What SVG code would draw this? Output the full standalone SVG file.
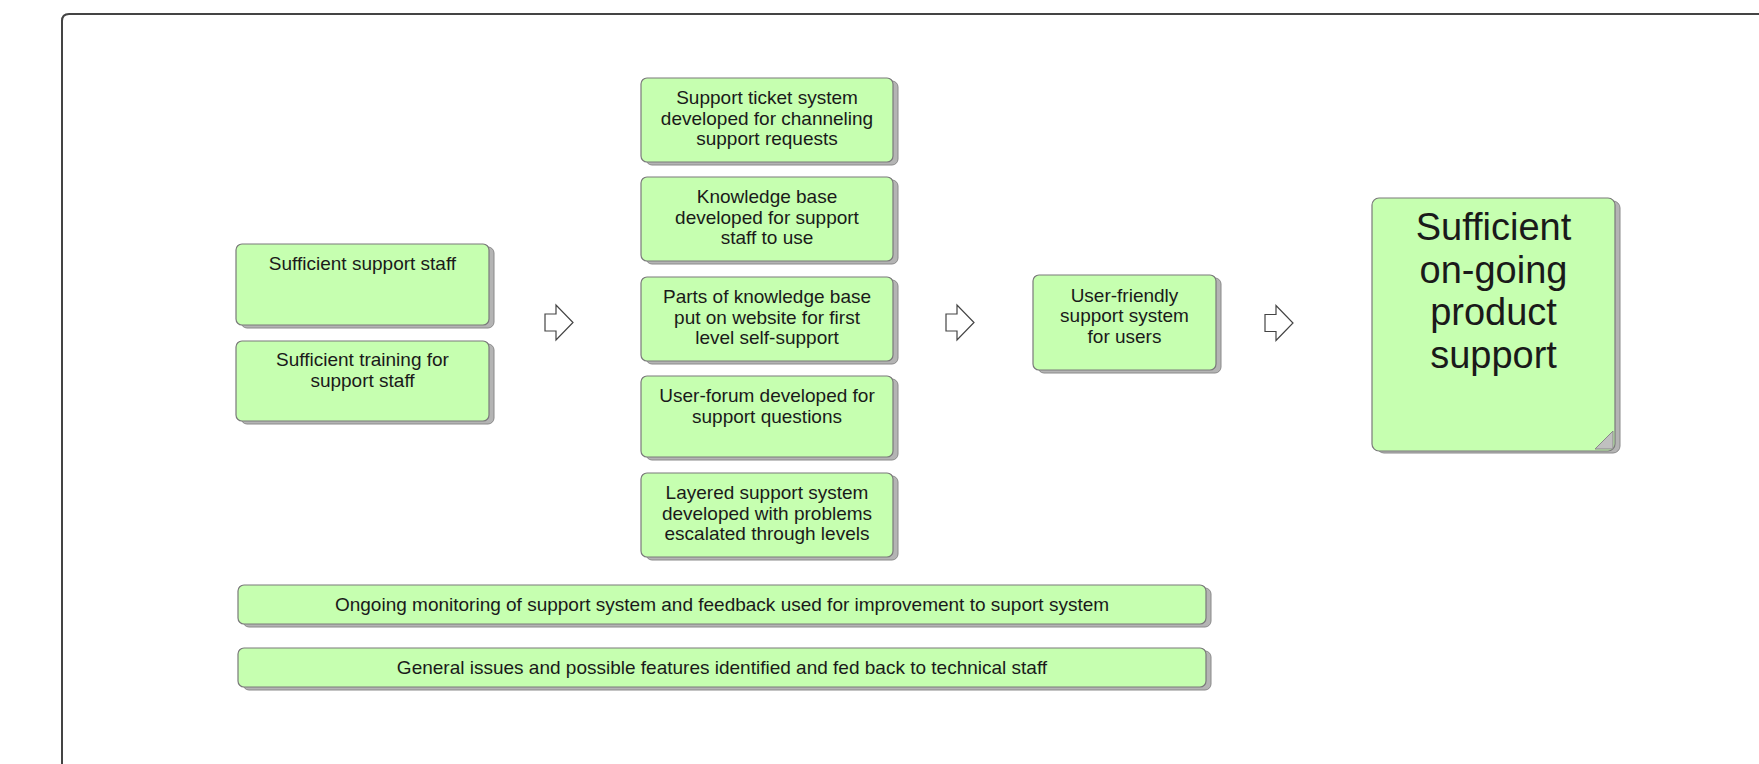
<svg xmlns="http://www.w3.org/2000/svg" width="1759" height="764" viewBox="0 0 1759 764">
<style>
.sh{fill:#b4b4b4;stroke:#8a8a8a;stroke-width:1}
.bx{fill:#c6ffb0;stroke:#7a7a7a;stroke-width:1.2}
.t{font-family:"Liberation Sans",Arial,sans-serif;font-size:19px;fill:#1a1a1a;text-anchor:middle}
.tb{font-family:"Liberation Sans",Arial,sans-serif;font-size:38px;fill:#1a1a1a;text-anchor:middle}
.ar{fill:#ffffff;stroke:#444;stroke-width:1.2}
</style>
<defs>
<polygon id="arr" points="0,-8.5 11,-8.5 11,-17.5 28,0 11,17.5 11,8.5 0,8.5"/>
</defs>
<rect width="1759" height="764" fill="#ffffff"/>
<path d="M62,764 L62,21 Q62,14 69,14 L1759,14" fill="none" stroke="#444" stroke-width="2"/>

<g id="n1">
<rect class="sh" x="241" y="247" width="253" height="81" rx="6"/>
<rect class="bx" x="236" y="244" width="253" height="81" rx="6"/>
<text class="t" x="362.5" y="270">Sufficient support staff</text>
</g>
<g id="n2">
<rect class="sh" x="241" y="344" width="253" height="80" rx="6"/>
<rect class="bx" x="236" y="341" width="253" height="80" rx="6"/>
<text class="t" x="362.5" y="366">Sufficient training for</text>
<text class="t" x="362.5" y="386.5">support staff</text>
</g>

<g id="n3">
<rect class="sh" x="646" y="81" width="252" height="84" rx="6"/>
<rect class="bx" x="641" y="78" width="252" height="84" rx="6"/>
<text class="t" x="767" y="104">Support ticket system</text>
<text class="t" x="767" y="124.5">developed for channeling</text>
<text class="t" x="767" y="145">support requests</text>
</g>
<g id="n4">
<rect class="sh" x="646" y="180" width="252" height="84" rx="6"/>
<rect class="bx" x="641" y="177" width="252" height="84" rx="6"/>
<text class="t" x="767" y="203">Knowledge base</text>
<text class="t" x="767" y="223.5">developed for support</text>
<text class="t" x="767" y="244">staff to use</text>
</g>
<g id="n5">
<rect class="sh" x="646" y="280" width="252" height="84" rx="6"/>
<rect class="bx" x="641" y="277" width="252" height="84" rx="6"/>
<text class="t" x="767" y="303">Parts of knowledge base</text>
<text class="t" x="767" y="323.5">put on website for first</text>
<text class="t" x="767" y="344">level self-support</text>
</g>
<g id="n6">
<rect class="sh" x="646" y="379" width="252" height="81" rx="6"/>
<rect class="bx" x="641" y="376" width="252" height="81" rx="6"/>
<text class="t" x="767" y="402">User-forum developed for</text>
<text class="t" x="767" y="422.5">support questions</text>
</g>
<g id="n7">
<rect class="sh" x="646" y="476" width="252" height="84" rx="6"/>
<rect class="bx" x="641" y="473" width="252" height="84" rx="6"/>
<text class="t" x="767" y="499">Layered support system</text>
<text class="t" x="767" y="519.5">developed with problems</text>
<text class="t" x="767" y="540">escalated through levels</text>
</g>

<g id="n8">
<rect class="sh" x="1038" y="278" width="183" height="95" rx="6"/>
<rect class="bx" x="1033" y="275" width="183" height="95" rx="6"/>
<text class="t" x="1124.5" y="301.5">User-friendly</text>
<text class="t" x="1124.5" y="322">support system</text>
<text class="t" x="1124.5" y="342.5">for users</text>
</g>

<g id="n9">
<rect class="sh" x="1377" y="201" width="243" height="252" rx="7"/>
<rect class="bx" x="1372" y="198" width="243" height="253" rx="7"/>
<polygon points="1613,431 1613,449 1595,449" fill="#c0c0c0" stroke="#888" stroke-width="1"/>
<text class="tb" x="1493.5" y="240">Sufficient</text>
<text class="tb" x="1493.5" y="282.5">on-going</text>
<text class="tb" x="1493.5" y="325">product</text>
<text class="tb" x="1493.5" y="367.5">support</text>
</g>

<g id="n10">
<rect class="sh" x="243" y="588" width="968" height="39" rx="6"/>
<rect class="bx" x="238" y="585" width="968" height="39" rx="6"/>
<text class="t" x="722" y="611">Ongoing monitoring of support system and feedback used for improvement to suport system</text>
</g>
<g id="n11">
<rect class="sh" x="243" y="651" width="968" height="39" rx="6"/>
<rect class="bx" x="238" y="648" width="968" height="39" rx="6"/>
<text class="t" x="722" y="674">General issues and possible features identified and fed back to technical staff</text>
</g>

<g id="connectors">
<use href="#arr" class="ar" x="545" y="322.5"/>
<use href="#arr" class="ar" x="946" y="322.5"/>
<use href="#arr" class="ar" x="1265" y="323"/>
</g>
</svg>
